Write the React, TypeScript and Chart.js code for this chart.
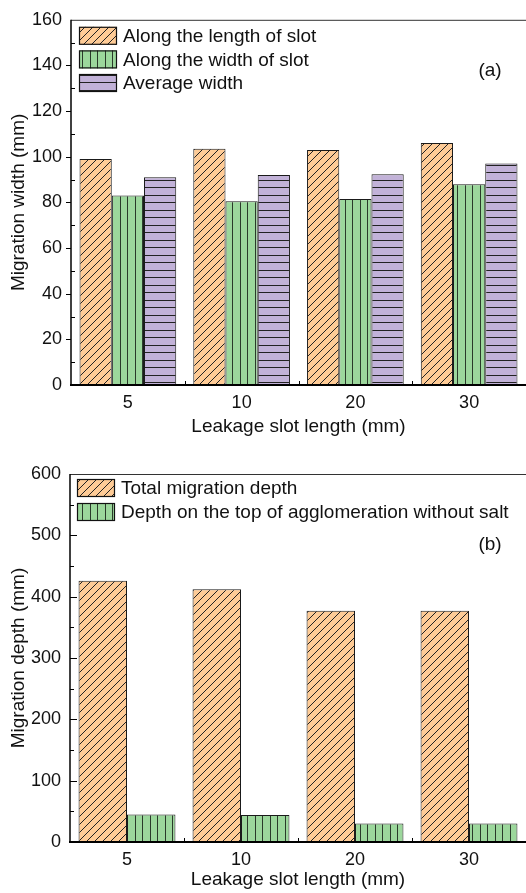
import React, { useEffect, useRef } from "react";
import { Chart, registerables } from "chart.js";
Chart.register(...registerables);

const categories = ["5", "10", "20", "30"];
// Chart (a)
const alongLength = [99, 103.5, 103, 106];
const alongWidth = [83, 80.5, 81.5, 88];
const averageWidth = [91, 92, 92.3, 97];
const widthLabels = ["Along the length of slot", "Along the width of slot", "Average width"];
// Chart (b)
const totalDepth = [426, 412, 377, 377];
const topDepth = [45, 44, 30, 30];
const depthLabels = ["Total migration depth", "Depth on the top of agglomeration without salt"];

const FONT = "'Liberation Sans', Arial, Helvetica, sans-serif";
const ORANGE = "#FECB96";
const GREEN = "#9CD79C";
const PURPLE = "#C2B2D8";

function makePattern(kind: string, bg: string, line: string): CanvasPattern | string {
  const c = document.createElement("canvas");
  let w = 8, h = 8;
  if (kind === "vert") { w = 15; h = 1; }
  if (kind === "horz") { w = 1; h = 15; }
  c.width = w; c.height = h;
  const g = c.getContext("2d");
  if (!g) return bg;
  g.fillStyle = bg;
  g.fillRect(0, 0, w, h);
  g.strokeStyle = line;
  g.fillStyle = line;
  if (kind === "diag") {
    g.lineWidth = 1;
    g.beginPath();
    g.moveTo(-1, 9); g.lineTo(9, -1);
    g.moveTo(-1, 1); g.lineTo(1, -1);
    g.moveTo(7, 9); g.lineTo(9, 7);
    g.stroke();
  } else if (kind === "vert") {
    g.fillRect(0, 0, 1, h);
    g.fillRect(7, 0, 1, h);
  } else {
    g.fillRect(0, 0, w, 1);
    g.fillRect(0, 7, w, 1);
  }
  const p = g.createPattern(c, "repeat");
  return p || bg;
}

type DecorOpts = {
  majors: number[];
  minors: number[];
  majorOut: boolean;
  majorLen: number;
  minorLen: number;
  legendDx: number;
  legendDy: number;
  legendStep: number;
  label: string;
  labelX: number;
  labelY: number;
};

function decorPlugin(o: DecorOpts) {
  return {
    id: "decor",
    afterDraw(chart: any) {
      const { ctx, chartArea: a, scales } = chart;
      const ys = scales.y, xs = scales.x;
      ctx.save();
      // top border
      ctx.strokeStyle = "#333";
      ctx.lineWidth = 1;
      ctx.beginPath();
      ctx.moveTo(a.left, a.top + 0.5);
      ctx.lineTo(a.right, a.top + 0.5);
      ctx.stroke();
      // axes
      ctx.strokeStyle = "#000";
      ctx.lineWidth = 1.5;
      ctx.beginPath();
      ctx.moveTo(a.left, a.top);
      ctx.lineTo(a.left, a.bottom);
      ctx.stroke();
      ctx.lineWidth = 2.2;
      ctx.beginPath();
      ctx.moveTo(a.left - 1, a.bottom);
      ctx.lineTo(a.right, a.bottom);
      ctx.stroke();
      // y ticks
      ctx.lineWidth = 1;
      for (const v of o.majors) {
        const py = Math.round(ys.getPixelForValue(v)) + 0.5;
        ctx.beginPath();
        if (o.majorOut) { ctx.moveTo(a.left - o.majorLen, py); ctx.lineTo(a.left, py); }
        else { ctx.moveTo(a.left, py); ctx.lineTo(a.left + o.majorLen, py); }
        ctx.stroke();
      }
      for (const v of o.minors) {
        const py = Math.round(ys.getPixelForValue(v)) + 0.5;
        ctx.beginPath();
        ctx.moveTo(a.left, py);
        ctx.lineTo(a.left + o.minorLen, py);
        ctx.stroke();
      }
      // x boundary ticks
      for (let i = 1; i < categories.length; i++) {
        const px = Math.round((xs.getPixelForValue(i - 1) + xs.getPixelForValue(i)) / 2) + 0.5;
        ctx.beginPath();
        ctx.moveTo(px, a.bottom);
        ctx.lineTo(px, a.bottom - 4);
        ctx.stroke();
      }
      // legend
      const bx = a.left + o.legendDx;
      chart.data.datasets.forEach((ds: any, i: number) => {
        const by = a.top + o.legendDy + i * o.legendStep;
        ctx.fillStyle = ds.backgroundColor;
        ctx.fillRect(bx, by, 38, 18);
        ctx.strokeStyle = "#111";
        ctx.lineWidth = 1.2;
        ctx.strokeRect(bx + 0.5, by + 0.5, 37, 17);
        ctx.fillStyle = "#111";
        ctx.font = `19px ${FONT}`;
        ctx.textAlign = "left";
        ctx.textBaseline = "middle";
        ctx.fillText(ds.label, bx + 44, by + 10);
      });
      // panel label
      ctx.fillStyle = "#111";
      ctx.font = `19px ${FONT}`;
      ctx.textAlign = "center";
      ctx.textBaseline = "middle";
      ctx.fillText(o.label, o.labelX, o.labelY);
      ctx.restore();
    },
  };
}

function baseOptions(yMax: number, step: number, yTitle: string, xHeight: number, topPad: number, yWidth: number) {
  return {
    responsive: false,
    animation: false as const,
    layout: { padding: { top: topPad, right: 0, left: 0, bottom: 0 } },
    plugins: { legend: { display: false }, tooltip: { enabled: false } },
    scales: {
      x: {
        type: "category" as const,
        grid: { display: false, drawTicks: false },
        border: { display: false },
        ticks: { color: "#111", font: { family: FONT, size: 18 }, padding: 7 },
        title: {
          display: true,
          text: "Leakage slot length (mm)",
          color: "#111",
          font: { family: FONT, size: 19 },
          padding: { top: 0, bottom: 2 },
        },
        afterFit: (s: any) => { s.height = xHeight; },
      },
      y: {
        min: 0,
        max: yMax,
        grid: { display: false, drawTicks: false },
        border: { display: false },
        ticks: { stepSize: step, color: "#111", font: { family: FONT, size: 18 }, padding: 9 },
        title: {
          display: true,
          text: yTitle,
          color: "#111",
          font: { family: FONT, size: 19 },
          padding: { top: 7, bottom: 0 },
        },
        afterFit: (s: any) => { s.width = yWidth; },
      },
    },
  };
}

const barCommon = {
  borderColor: "#1a1a1a",
  borderWidth: 1,
  barPercentage: 1,
  categoryPercentage: 0.85,
};

export default function App() {
  const ref1 = useRef<HTMLCanvasElement>(null);
  const ref2 = useRef<HTMLCanvasElement>(null);

  useEffect(() => {
    document.body.style.margin = "0";
    const pOrange = makePattern("diag", ORANGE, "#222");
    const pGreen = makePattern("vert", GREEN, "#2a3a2a");
    const pPurple = makePattern("horz", PURPLE, "#222");

    const c1 = new Chart(ref1.current as HTMLCanvasElement, {
      type: "bar",
      data: {
        labels: categories,
        datasets: [
          { label: widthLabels[0], data: alongLength, backgroundColor: pOrange as any, ...barCommon },
          { label: widthLabels[1], data: alongWidth, backgroundColor: pGreen as any, ...barCommon },
          { label: widthLabels[2], data: averageWidth, backgroundColor: pPurple as any, ...barCommon },
        ],
      },
      options: baseOptions(160, 20, "Migration width (mm)", 55, 17, 71) as any,
      plugins: [
        decorPlugin({
          majors: [20, 40, 60, 80, 100, 120, 140],
          minors: [10, 30, 50, 70, 90, 110, 130, 150],
          majorOut: true,
          majorLen: 5,
          minorLen: 4,
          legendDx: 8,
          legendDy: 7,
          legendStep: 23.6,
          label: "(a)",
          labelX: 490,
          labelY: 71,
        }),
      ],
    });

    const c2 = new Chart(ref2.current as HTMLCanvasElement, {
      type: "bar",
      data: {
        labels: categories,
        datasets: [
          { label: depthLabels[0], data: totalDepth, backgroundColor: pOrange as any, ...barCommon },
          { label: depthLabels[1], data: topDepth, backgroundColor: pGreen as any, ...barCommon },
        ],
      },
      options: baseOptions(600, 100, "Migration depth (mm)", 51, 34, 70) as any,
      plugins: [
        decorPlugin({
          majors: [100, 200, 300, 400, 500],
          minors: [50, 150, 250, 350, 450, 550],
          majorOut: false,
          majorLen: 7,
          minorLen: 4,
          legendDx: 7,
          legendDy: 5,
          legendStep: 24,
          label: "(b)",
          labelX: 490,
          labelY: 105,
        }),
      ],
    });

    return () => {
      c1.destroy();
      c2.destroy();
    };
  }, []);

  return (
    <div style={{ width: 526, height: 893, background: "#fff" }}>
      <canvas ref={ref1} width={526} height={440} style={{ display: "block", width: 526, height: 440 }} />
      <canvas ref={ref2} width={526} height={453} style={{ display: "block", width: 526, height: 453 }} />
    </div>
  );
}
